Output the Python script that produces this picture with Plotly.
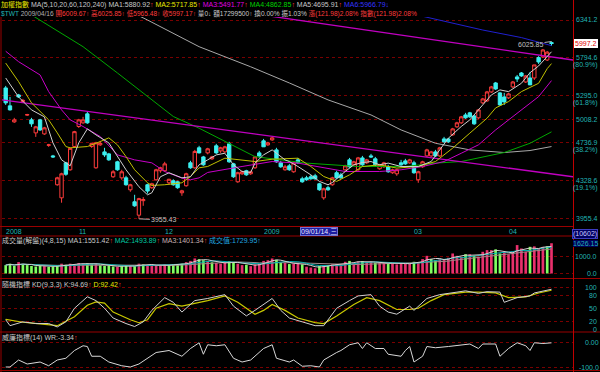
import math
import pandas as pd
import plotly.graph_objects as go

W, H = 600, 372
X0, X1 = 2, 573
IDX_L, IDX_R = -0.86, 132.0
FONT = "Liberation Sans, Arial, Noto Sans CJK TC, sans-serif"

# ---------------- data ----------------
opens = [5397, 5172, 4979, 5308, 5225, 5060, 5003, 4851, 5003, 4839, 4710, 4593, 4289, 4158, 4518, 4444, 4697,
         4925, 4968, 5075, 4697, 4465, 4715, 4637, 4615, 4371, 4529, 4360, 4360, 4238, 4119, 3990, 4130, 4289, 4259, 4340, 4434,
         4434, 4309, 4330, 4319, 4208, 4279, 4518, 4465, 4682, 4582, 4626, 4561, 4704, 4648, 4637, 4726, 4507, 4319, 4402, 4434, 4402, 4465, 4626,
         4760, 4715, 4771, 4659, 4518, 4444, 4486, 4423, 4550, 4350, 4360, 4371, 4381, 4299, 4158,
         4259, 4289, 4413, 4391, 4444, 4550, 4497, 4444, 4571, 4518, 4593, 4561, 4455, 4476, 4476, 4413, 4402, 4518, 4539, 4518,
         4518, 4340, 4476, 4593, 4593, 4637, 4593, 4782, 4782, 4828, 4921, 4968, 5062, 5087, 5050, 5027, 5209, 5234, 5346, 5461, 5334, 5283,
         5271, 5410, 5540, 5592, 5474, 5526, 5526, 5800, 5810, 5767, 6009.67]
highs = [5423, 5283, 5027, 5321, 5258, 5075, 5027, 4932, 5015, 4921, 4726, 4604, 4371, 4413, 4529, 4682, 4874,
         5015, 5039, 5099, 4737, 4749, 4760, 4682, 4626, 4440, 4540, 4444, 4381, 4299, 4188, 4158, 4165, 4299, 4309, 4455, 4476,
         4529, 4350, 4345, 4330, 4238, 4413, 4540, 4659, 4704, 4593, 4682, 4593, 4726, 4693, 4704, 4749, 4518, 4423, 4434, 4444, 4434, 4593, 4648,
         4782, 4749, 4805, 4682, 4540, 4497, 4507, 4529, 4571, 4371, 4381, 4391, 4402, 4309, 4259,
         4279, 4371, 4434, 4413, 4497, 4571, 4540, 4582, 4593, 4561, 4615, 4582, 4507, 4529, 4497, 4455, 4455, 4550, 4561, 4561,
         4540, 4434, 4540, 4671, 4648, 4659, 4693, 4805, 4794, 4909, 4980, 5050, 5087, 5099, 5062, 5135, 5271, 5359, 5423, 5474, 5346, 5334,
         5334, 5487, 5566, 5605, 5566, 5605, 5700, 5820, 5920, 5892, 6025.85]
lows = [5184, 5115, 4968, 5271, 5209, 5050, 4921, 4805, 4874, 4828, 4693, 4571, 4279, 4110, 4381, 4434, 4682,
        4909, 4956, 4956, 4682, 4455, 4704, 4582, 4540, 4360, 4434, 4340, 4279, 4218, 4070, 3955.43, 4080, 4200, 4248, 4330, 4413,
        4423, 4289, 4279, 4248, 4178, 4269, 4455, 4455, 4620, 4486, 4610, 4550, 4615, 4626, 4626, 4518, 4360, 4309, 4391, 4381, 4391, 4455, 4571,
        4693, 4704, 4760, 4518, 4465, 4434, 4434, 4413, 4507, 4309, 4330, 4340, 4340, 4228, 4139,
        4228, 4279, 4350, 4350, 4434, 4465, 4486, 4434, 4486, 4507, 4571, 4476, 4444, 4465, 4413, 4402, 4381, 4486, 4497, 4507,
        4402, 4309, 4465, 4582, 4582, 4582, 4582, 4737, 4737, 4817, 4909, 4956, 5015, 5027, 4944, 5015, 5196, 5221, 5334, 5372, 5172, 5184,
        5258, 5397, 5474, 5540, 5461, 5436, 5500, 5713, 5794, 5753, 5965.48]
closes = [5209, 5123, 5003, 5283, 5240, 5066, 4956, 4921, 4885, 4909, 4715, 4582, 4360, 4402, 4397, 4676, 4865,
          5003, 5003, 4968, 4732, 4737, 4732, 4604, 4550, 4423, 4444, 4423, 4289, 4289, 4080, 4150, 4140, 4225, 4299, 4444, 4465,
          4507, 4345, 4289, 4259, 4228, 4402, 4465, 4642, 4626, 4497, 4671, 4582, 4626, 4682, 4693, 4529, 4371, 4413, 4423, 4391, 4423, 4582, 4591,
          4693, 4737, 4794, 4529, 4476, 4476, 4444, 4518, 4518, 4319, 4340, 4350, 4350, 4238, 4248,
          4238, 4360, 4360, 4360, 4486, 4476, 4529, 4571, 4497, 4550, 4582, 4497, 4497, 4518, 4423, 4444, 4444, 4497, 4507, 4550,
          4413, 4423, 4529, 4659, 4637, 4593, 4682, 4749, 4749, 4897, 4968, 5039, 5027, 5039, 4956, 5123, 5258, 5346, 5410, 5384, 5184, 5221,
          5321, 5474, 5513, 5553, 5553, 5436, 5700, 5740, 5906, 5875.19, 5997.17]
volumes = [480, 560, 430, 650, 520, 480, 430, 400, 440, 420, 380, 400, 450, 560, 500, 560, 520,
           600, 560, 580, 520, 560, 480, 430, 450, 400, 380, 420, 430, 450, 420, 560, 520, 480, 500, 430, 460,
           520, 480, 520, 500, 560, 650, 720, 860, 820, 760, 700, 640, 600, 560, 620, 700, 650, 560, 480, 500, 420, 520, 560,
           720, 760, 860, 780, 640, 600, 540, 560, 600, 520, 390, 340, 300, 430, 480,
           480, 520, 540, 480, 670, 720, 620, 680, 710, 620, 670, 620, 600, 600, 560, 600, 520, 600, 560, 560,
           670, 640, 825, 1010, 825, 767, 825, 767, 900, 1145, 1010, 956, 1100, 1100, 1010, 956, 1240, 1335, 1335, 1380, 1145, 1240,
           1100, 1240, 1625, 1430, 1240, 1525, 1550, 1400, 1520, 1554, 1729.95]

# moving-average lines (index, value)
ma1_idx = [0, 3, 6, 9, 11, 13, 15, 17, 19, 21, 24, 26, 28, 31, 33, 34, 36, 38, 41, 43, 45, 47, 49, 51, 53, 55, 57, 58, 60, 62,
           63, 65, 66, 68, 71, 73, 75, 76, 79, 81, 83, 85, 87, 89, 92, 96, 99, 101, 103, 106, 108, 110, 113, 115, 117, 120, 122, 124, 126, 127]
ma1_val = [5526, 5283, 5123, 5039, 4737, 4550, 4486, 4737, 4897, 4828, 4737, 4582, 4444, 4269, 4188, 4208, 4371, 4413, 4360, 4371,
           4497, 4550, 4604, 4622, 4497, 4426, 4416, 4515, 4604, 4659, 4622, 4550, 4532, 4479, 4391, 4323, 4289, 4312, 4426, 4497,
           4521, 4532, 4497, 4515, 4479, 4479, 4532, 4659, 4790, 4925, 5003, 5123, 5308, 5372, 5350, 5457, 5596, 5686, 5812, 5880.92]
ma2_idx = [0, 3, 6, 10, 12, 14, 15, 19, 22, 24, 26, 28, 30, 33, 34, 37, 41, 43, 45, 47, 51, 55, 58, 62, 68, 71, 74, 77, 80, 83,
           87, 91, 96, 100, 104, 108, 112, 114, 117, 120, 124, 126, 127]
ma2_val = [5725, 5478, 5209, 5003, 4851, 4696, 4682, 4696, 4752, 4794, 4715, 4585, 4444, 4309, 4282, 4289, 4309, 4374, 4465, 4479,
           4568, 4550, 4532, 4557, 4568, 4479, 4374, 4323, 4391, 4479, 4497, 4462, 4479, 4532, 4678, 4848, 5023, 5147, 5225, 5350,
           5457, 5650, 5717.85]
ma3_idx = [0, 3, 8, 10, 13, 15, 18, 22, 26, 30, 34, 37, 41, 43, 45, 47, 55, 62, 68, 74, 79, 87, 92, 97, 102, 106, 110, 114, 119, 124, 127]
ma3_val = [5888, 5744, 5566, 5350, 5123, 5003, 4925, 4809, 4604, 4550, 4518, 4426, 4357, 4340, 4360, 4416, 4479, 4532, 4515, 4462,
           4426, 4426, 4444, 4479, 4532, 4622, 4715, 4885, 5083, 5287, 5491.77]
ma4_idx = [0, 4, 8, 11, 18, 26, 34, 39, 45, 52, 58, 70, 82, 93, 100, 106, 116, 122, 127]
ma4_val = [6665, 6500, 6341, 6220, 5952, 5592, 5246, 5043, 4905, 4733, 4585, 4515, 4479, 4479, 4515, 4532, 4630, 4733, 4862.85]
ma5_idx = [25, 29, 33, 45, 57, 66, 75, 85, 92, 100, 108, 116, 122, 127]
ma5_val = [6598, 6465, 6341, 5952, 5675, 5461, 5246, 5062, 4885, 4733, 4659, 4630, 4652, 4695.91]
ma6_idx = [92, 98, 103, 111, 120, 127]
ma6_val = [6473, 6386, 6315, 6192, 6082, 5966.79]

# trend lines (index, value)
trend_a_idx = [-0.86, 132.0]
trend_a_val = [5246, 4371]
trend_b_idx = [55, 132.0]
trend_b_val = [6462, 5767]

# KD and Williams %R
k_idx = [0, 1, 4, 7, 10, 12, 14, 16, 19, 21, 23, 25, 28, 30, 32, 34, 37, 39, 41, 44, 47, 51, 53, 56, 58, 62, 64, 66, 69, 72,
         74, 77, 80, 82, 85, 87, 89, 91, 94, 95, 98, 101, 105, 107, 110, 112, 115, 116, 119, 122, 123, 127]
k_val = [23, 9, 18, 14, 14, 6, 18, 50, 77, 68, 50, 27, 14, 7, 18, 45, 75, 64, 41, 68, 73, 82, 55, 32, 45, 73, 45, 27, 18, 9,
         9, 50, 68, 79, 82, 55, 41, 36, 55, 45, 73, 82, 88, 91, 85, 89, 88, 64, 75, 79, 86, 94.69]
d_idx = [0, 4, 8, 12, 16, 19, 21, 23, 25, 29, 31, 33, 35, 38, 41, 43, 47, 51, 54, 58, 60, 62, 65, 68, 72, 74, 77, 81, 84, 87,
         91, 94, 96, 99, 102, 107, 110, 114, 117, 121, 124, 127]
d_val = [24, 17, 13, 9, 30, 57, 65, 62, 41, 23, 16, 23, 50, 61, 55, 59, 68, 79, 64, 36, 45, 59, 45, 27, 16, 14, 32, 59, 75, 68,
         47, 47, 50, 68, 82, 88, 88, 86, 75, 77, 86, 92.42]
wr_idx = [0, 1, 3, 5, 8, 10, 12, 14, 16, 18, 19, 20, 22, 24, 27, 29, 31, 33, 35, 38, 41, 43, 45, 46, 47, 49, 51, 53, 55, 57,
          60, 62, 63, 66, 67, 69, 71, 73, 74, 77, 78, 80, 82, 83, 84, 86, 88, 89, 92, 93, 94, 95, 97, 98, 100, 103, 106, 108, 110, 111,
          114, 115, 117, 119, 121, 122, 123, 125, 127]
wr_val = [-100, -100, -72, -88, -80, -95, -72, -65, -34, -15, -18, -57, -57, -80, -95, -100, -88, -65, -42, -34, -57, -26, -3, -49, -11,
          -15, -11, -65, -80, -72, -26, -11, -65, -80, -72, -97, -95, -100, -72, -42, -34, -11, -3, -26, -3, -26, -26, -49, -57, -34,
          -18, -80, -57, -18, -23, -18, -11, -8, -26, -8, -8, -57, -26, -3, -15, -34, -3, -6, -3.34]

# axis labels
main_tick_vals = [6341.2, 5794.6, 5295.0, 5008.2, 4736.9, 4328.6, 3955.4]
main_tick_text = ["6341.2", "5794.6", "5295.0", "5008.2", "4736.9", "4328.6", "3955.4"]
main_tick_pct = ["", "(80.9%)", "(61.8%)", "", "(38.2%)", "(19.1%)", ""]
vol_tick_vals = [0, 1000]
vol_tick_text = ["0.0", "1000.0"]
kd_tick_vals = [0, 20, 50, 80, 100]
kd_tick_text = ["0", "20", "50", "80", "100"]
wr_tick_vals = [0, -100]
wr_tick_text = ["0.00", "-100.0"]
month_idx = [0, 17, 37, 60, 95, 117]
month_text = ["2008", "11", "12", "2009", "03", "04"]
cursor_idx = 68.4
cursor_text = "09/01/14,三"

# ---------------- colors ----------------
RED = "#ff3c3c"
CYAN = "#3cf0f0"
WHITE = "#c8c8c8"
YEL = "#e8e800"
MAG = "#e000e0"
GRN = "#00d000"
BLUE = "#3434ff"
TEAL = "#20b4b4"
GRID = "#7a0000"
BORDER = "#9a0000"


def PY(p):
    return 1 - p / H


def PX(p):
    return p / W


def sp(t, c):
    return f'<span style="color:{c}">{t}</span>'


idx = list(range(len(closes)))
fig = go.Figure()

fig.add_trace(go.Candlestick(
    x=idx, open=opens, high=highs, low=lows, close=closes,
    increasing=dict(line=dict(color=RED, width=1), fillcolor="#000000"),
    decreasing=dict(line=dict(color=CYAN, width=1), fillcolor=CYAN),
    whiskerwidth=0, xaxis="x", yaxis="y", hoverinfo="skip", showlegend=False))

for xs, ys, col, wd in [
    (ma5_idx, ma5_val, "#a8a8a8", 1), (ma4_idx, ma4_val, "#00a800", 1), (ma6_idx, ma6_val, "#2020d0", 1),
    (trend_a_idx, trend_a_val, "#c000c0", 1.3), (trend_b_idx, trend_b_val, "#c000c0", 1.3),
    (ma3_idx, ma3_val, "#c800c8", 1), (ma2_idx, ma2_val, "#c0c000", 1), (ma1_idx, ma1_val, "#d0d0d0", 1)]:
    fig.add_trace(go.Scatter(x=xs, y=ys, mode="lines", line=dict(color=col, width=wd),
                             xaxis="x", yaxis="y", hoverinfo="skip", showlegend=False))

vol_colors = ["#e8306c" if (i > 0 and closes[i] >= closes[i - 1]) else "#80ff60" for i in idx]
fig.add_trace(go.Bar(x=idx, y=volumes, marker=dict(color=vol_colors, line=dict(width=0)), width=0.62,
                     xaxis="x2", yaxis="y2", hoverinfo="skip", showlegend=False))
vs = pd.Series(volumes)
for win, col in [(15, "#a08888"), (8, "#00b0b0"), (4, "#d0d0d0")]:
    fig.add_trace(go.Scatter(x=idx, y=vs.rolling(win, min_periods=1).mean(), mode="lines",
                             line=dict(color=col, width=1), xaxis="x2", yaxis="y2", hoverinfo="skip", showlegend=False))

fig.add_trace(go.Scatter(x=d_idx, y=d_val, mode="lines", line=dict(color="#c8c800", width=1.2),
                         xaxis="x3", yaxis="y3", hoverinfo="skip", showlegend=False))
fig.add_trace(go.Scatter(x=k_idx, y=k_val, mode="lines", line=dict(color="#d0d0d0", width=1),
                         xaxis="x3", yaxis="y3", hoverinfo="skip", showlegend=False))
fig.add_trace(go.Scatter(x=wr_idx, y=wr_val, mode="lines", line=dict(color="#d8d8d8", width=1),
                         xaxis="x4", yaxis="y4", hoverinfo="skip", showlegend=False))

xcommon = dict(showgrid=False, zeroline=False, showticklabels=False, showline=False, ticks="",
               range=[IDX_L, IDX_R], domain=[PX(X0), PX(X1)], fixedrange=True)
ycommon = dict(showticklabels=False, showgrid=True, gridcolor=GRID, griddash="dot", gridwidth=1,
               zeroline=False, showline=False, ticks="", fixedrange=True)

ann = []


def txt(x, y, s, color=WHITE, size=7, xanchor="left", xref="paper", yref="paper", **kw):
    d = dict(x=x, y=y, xref=xref, yref=yref, text=s, showarrow=False, xanchor=xanchor, yanchor="middle",
             font=dict(color=color, size=size, family=FONT), borderpad=0, borderwidth=0)
    d.update(kw)
    ann.append(d)


# header lines (one text run each, coloured spans)
header1 = [sp("加權指數", YEL), sp("MA(5,10,20,60,120,240)", WHITE),
           sp("MA1:5880.92", WHITE) + sp("↑", RED), sp("MA2:5717.85", YEL) + sp("↑", RED),
           sp("MA3:5491.77", MAG) + sp("↑", RED), sp("MA4:4862.85", GRN) + sp("↑", RED),
           sp("MA5:4695.91", WHITE) + sp("↑", RED), sp("MA6:5966.79", BLUE) + sp("↓", BLUE)]
header2 = [sp("$TWT", TEAL), sp("2009/04/16", "#b0b0b0"), sp("開6009.67↑", RED),
           sp("高6025.85↑", RED), sp("低5965.48↑", RED), sp("收5997.17↑", RED),
           sp("量0↓", WHITE), sp("額17299500↑", WHITE), sp("換0.00%", WHITE),
           sp("振1.03%", WHITE), sp("漲(121.98)2.08%", RED), sp("指數(121.98)2.08%", RED)]
txt(PX(1), PY(4.5), " ".join(header1), size=7)
txt(PX(1), PY(14), " ".join(header2), size=6.6)

vol_head = [sp("成交量(解盤)(4,8,15)", WHITE), sp("MA1:1551.42", WHITE) + sp("↑", RED),
            sp("MA2:1493.89", "#00c8a0") + sp("↑", RED), sp("MA3:1401.34", "#c8b0b0") + sp("↑", RED),
            sp("成交值:1729.95", "#20a8e0") + sp("↑", "#20a8e0")]
txt(PX(2), PY(240.5), " ".join(vol_head))
kd_head = [sp("隨機指標", WHITE), sp("KD(9,3,3)", WHITE), sp("K:94.69", WHITE) + sp("↑", RED),
           sp("D:92.42", YEL) + sp("↑", RED)]
txt(PX(2), PY(284.5), " ".join(kd_head))
wr_head = [sp("威廉指標(14)", WHITE), sp("WR:-3.34", WHITE) + sp("↑", RED)]
txt(PX(2), PY(337.5), " ".join(wr_head))

# right axis labels
for v, t, p in zip(main_tick_vals, main_tick_text, main_tick_pct):
    txt(PX(598), math.log10(v), t, color=TEAL, xanchor="right", yref="y")
    if p:
        txt(PX(598), math.log10(v), p, color=TEAL, xanchor="right", yref="y", yshift=-7.5)
for v, t in zip(vol_tick_vals, vol_tick_text):
    txt(PX(597), v, t, color=TEAL, xanchor="right", yref="y2")
for v, t in zip(kd_tick_vals, kd_tick_text):
    txt(PX(597), v, t, color=TEAL, xanchor="right", yref="y3")
for v, t in zip(wr_tick_vals, wr_tick_text):
    txt(PX(599), v, t, color=TEAL, xanchor="right", yref="y4")

# last close box
txt(PX(598), math.log10(closes[-1]), f"{closes[-1]:.1f}", color="#e00000", xanchor="right", yref="y",
    bgcolor="#ffffff", borderpad=1)
txt(PX(598), PY(233.5), "(10602)", color="#c8c8ff", xanchor="right", bgcolor="#000060",
    bordercolor="#3c3cc0", borderwidth=1, borderpad=0)
txt(PX(598), PY(243), "1626.15", color=TEAL, xanchor="right", bgcolor="#00005a", borderpad=0)

# month labels on the date strip
for i, t in zip(month_idx, month_text):
    txt(i, PY(231.2), t, color=TEAL, xref="x")
txt(cursor_idx, PY(231.2), cursor_text, color="#e8e8ff", xref="x", bgcolor="#1c1ca0",
    bordercolor="#7070d0", borderwidth=1, borderpad=0)

# extreme labels
lo_i = lows.index(min(lows))
hi_i = highs.index(max(highs))
ann.append(dict(x=lo_i, y=math.log10(lows[lo_i]), xref="x", yref="y", text=f"{lows[lo_i]:.2f}",
                showarrow=True, arrowhead=0, arrowwidth=1, arrowcolor="#b0b0b0", ax=25, ay=1,
                font=dict(color="#c0c0c0", size=7, family=FONT)))
ann.append(dict(x=hi_i, y=math.log10(highs[hi_i]), xref="x", yref="y", text=f"{highs[hi_i]:.2f}",
                showarrow=True, arrowhead=0, arrowwidth=1, arrowcolor="#b0b0b0", ax=-21, ay=3,
                font=dict(color="#c0c0c0", size=7, family=FONT)))

shapes = []


def hline(yp, x0p=0, x1p=600, col=BORDER):
    shapes.append(dict(type="line", xref="paper", yref="paper", x0=PX(x0p), x1=PX(x1p), y0=PY(yp), y1=PY(yp),
                       line=dict(color=col, width=1)))


def vline(xp, y0p=0, y1p=372, col=BORDER):
    shapes.append(dict(type="line", xref="paper", yref="paper", x0=PX(xp), x1=PX(xp), y0=PY(y0p), y1=PY(y1p),
                       line=dict(color=col, width=1)))


hline(226.5, 0, 573.5)
hline(236, 0, 573.5)
hline(278.5)
hline(332)
hline(370.5)
vline(573.5, 0, 372, "#c00000")
vline(1, 17, 372)

fig.update_layout(
    width=W, height=H, margin=dict(l=0, r=0, t=0, b=0),
    paper_bgcolor="#000000", plot_bgcolor="#000000", showlegend=False,
    boxgap=0.22, boxgroupgap=0, bargap=0.3,
    xaxis=dict(**xcommon, anchor="y", rangeslider=dict(visible=False)),
    xaxis2=dict(**xcommon, anchor="y2"),
    xaxis3=dict(**xcommon, anchor="y3"),
    xaxis4=dict(**xcommon, anchor="y4"),
    yaxis=dict(**ycommon, type="log", range=[math.log10(3889), math.log10(6386.5)],
               domain=[PY(226), PY(17)], tickvals=main_tick_vals),
    yaxis2=dict(**ycommon, range=[-257, 2143], domain=[PY(278), PY(236)], tickvals=vol_tick_vals),
    yaxis3=dict(**ycommon, range=[-5.9, 121.2], domain=[PY(332), PY(278)], tickvals=[20, 50, 80, 100]),
    yaxis4=dict(**ycommon, range=[-112, 40], domain=[PY(370), PY(332)], tickvals=wr_tick_vals),
    annotations=ann, shapes=shapes,
)

fig.write_html("out.html", config={"displayModeBar": False, "staticPlot": True})

# remove the browser's default page margin so the 600x372 figure fills the window exactly
with open("out.html", "r", encoding="utf-8") as f:
    html = f.read()
html = html.replace("<head>", "<head><style>html,body{margin:0;padding:0;overflow:hidden;background:#000}</style>", 1)
with open("out.html", "w", encoding="utf-8") as f:
    f.write(html)
